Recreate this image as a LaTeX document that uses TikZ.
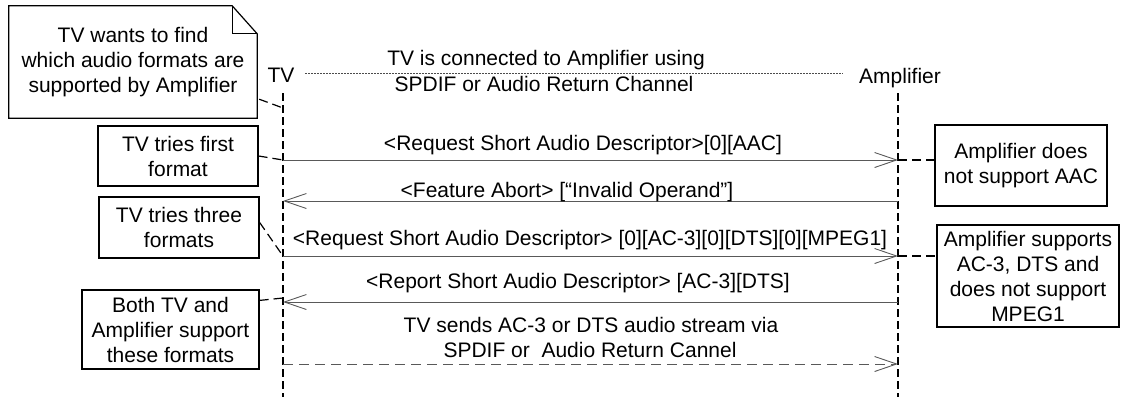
\documentclass[tikz,border=0pt]{standalone}
\usepackage{fontspec}
\setmainfont{Liberation Sans}
\usetikzlibrary{arrows.meta,calc}
\begin{document}
\begin{tikzpicture}[x=1pt,y=-1pt,
  font=\fontsize{21}{25}\selectfont,
  lifeline/.style={line width=1.3pt, dash pattern=on 8pt off 4pt},
  msg/.style={line width=0.9pt, draw=black!65, -{Straight Barb[length=22pt,width=15pt,line width=0.9pt]}},
  retmsg/.style={msg, dash pattern=on 10pt off 6pt},
  conn/.style={line width=1.2pt, dash pattern=on 9pt off 5pt},
  box/.style={draw, line width=1.2pt, align=center, inner sep=2pt},
  lbl/.style={anchor=base, inner sep=0pt},
  dotline/.style={line width=0.8pt, draw=black!70, dash pattern=on 2pt off 1pt}
]
\useasboundingbox (0,0) rectangle (1121,397);

% participants
\node[lbl] (tvl) at (281,82) {TV};
\node[lbl] (ampl) at (900,83) {Amplifier};
\coordinate (tvtop) at (283,93);
\coordinate (tvbot) at (283,397);
\coordinate (amptop) at (898,93);
\coordinate (ampbot) at (898,397);
\draw[lifeline] (tvtop) -- (tvbot);
\draw[lifeline] (amptop) -- (ampbot);

% connection note at top
\coordinate (d0) at (305,73);
\coordinate (d1) at (843,73);
\draw[dotline] (d0) -- (d1);
\node[lbl] (c1) at (546,65) {TV is connected to Amplifier using};
\node[lbl] (c2) at (544,91) {SPDIF or Audio Return Channel};

% note with folded corner
\node[align=center, minimum width=248pt, minimum height=112pt, inner sep=0pt] (note) at (133,62)
  {TV wants to find\\which audio formats are\\supported by Amplifier};
\draw[line width=1.2pt] (note.north west) -- ($(note.north east)+(-25,0)$)
  -- ($(note.north east)+(0,28)$) -- (note.south east) -- (note.south west) -- cycle;
\draw[line width=1.2pt] ($(note.north east)+(-25,0)$) -- ($(note.north east)+(-25,28)$) -- ($(note.north east)+(0,28)$);
\coordinate (tv0) at (283,108);
\draw[conn] ($(note.south east)+(2,-19)$) -- (tv0);

% message end points
\coordinate (tv1) at (283,160);  \coordinate (amp1) at (898,160);
\coordinate (tv2) at (283,201);  \coordinate (amp2) at (898,201);
\coordinate (tv3) at (283,256);  \coordinate (amp3) at (898,256);
\coordinate (tv4) at (283,302);  \coordinate (amp4) at (898,302);
\coordinate (tv5) at (283,364);  \coordinate (amp5) at (898,364);

% messages
\draw[msg] (tv1) -- (amp1);
\node[lbl] (m1) at (583,150) {<Request Short Audio Descriptor>[0][AAC]};
\draw[msg] (amp2) -- (tv2);
\node[lbl] (m2) at (567,197) {<Feature Abort> [“Invalid Operand”]};
\draw[msg] (tv3) -- (amp3);
\node[lbl] (m3) at (590,245) {<Request Short Audio Descriptor> [0][AC-3][0][DTS][0][MPEG1]};
\draw[msg] (amp4) -- (tv4);
\node[lbl] (m4) at (578,288) {<Report Short Audio Descriptor> [AC-3][DTS]};
\draw[retmsg] (tv5) -- (amp5);
\node[lbl] (m5a) at (591,332) {TV sends AC-3 or DTS audio stream via};
\node[lbl] (m5b) at (590,357) {SPDIF or\ \ Audio Return Cannel};

% left comment boxes
\node[box, minimum width=160pt, minimum height=60pt] (b1) at (178,156) {TV tries first\\format};
\node[box, minimum width=160pt, minimum height=61pt] (b2) at (179,227.5) {TV tries three\\formats};
\node[box, minimum width=177pt, minimum height=79pt] (b3) at (170.5,329.5) {Both TV and\\Amplifier support\\these formats};
\draw[conn] (b1.east) -- (tv1);
\draw[conn] ($(b2.north east)+(0,26)$) -- (tv3);
\draw[conn] ($(b3.north east)+(0,11)$) -- ($(tv4)+(0,-4)$);

% right comment boxes
\node[box, minimum width=172pt, minimum height=81pt] (r1) at (1021,165.5) {Amplifier does\\not support AAC};
\node[box, minimum width=182pt, minimum height=102pt] (r2) at (1028,276) {Amplifier supports\\AC-3, DTS and\\does not support\\MPEG1};
\draw[conn] (amp1) -- (amp1 -| r1.west);
\draw[conn] (amp3) -- (amp3 -| r2.west);
\end{tikzpicture}
\end{document}
